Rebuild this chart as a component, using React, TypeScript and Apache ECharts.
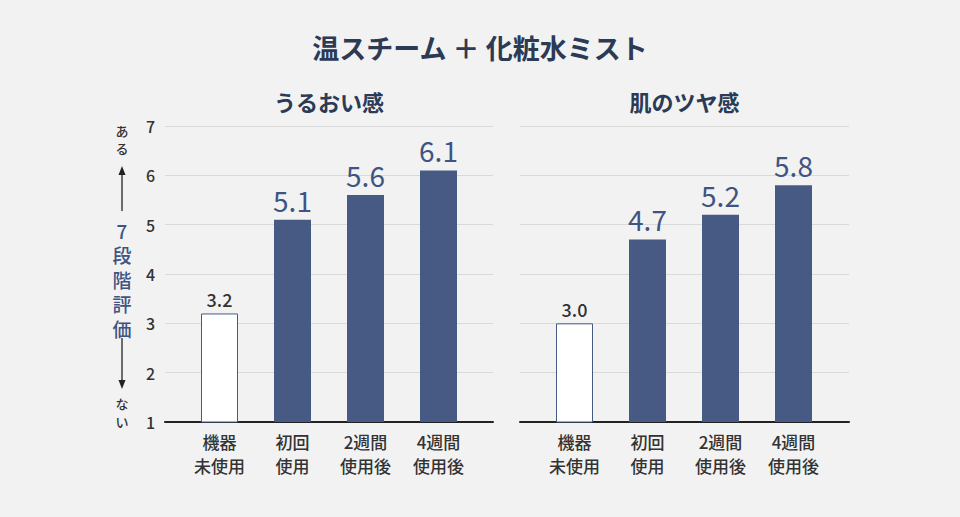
import React, { useEffect, useRef } from "react";
import * as echarts from "echarts";

const categories = ["機器\n未使用", "初回\n使用", "2週間\n使用後", "4週間\n使用後"];
const moistureValues = [3.2, 5.1, 5.6, 6.1];
const glossValues = [3.0, 4.7, 5.2, 5.8];
const yTicks = [1, 2, 3, 4, 5, 6, 7];
const titleText = "温スチーム ＋ 化粧水ミスト";
const panelTitles = ["うるおい感", "肌のツヤ感"];
const scaleTop = ["あ", "る"];
const scaleMid = ["7", "段", "階", "評", "価"];
const scaleBottom = ["な", "い"];

const FONT = "'Noto Sans CJK JP', 'Noto Sans', sans-serif";
const NAVY = "#2b3a55";
const BAR = "#465a84";
const LABEL_BLUE = "#3f5482";

function barData(values: number[]) {
  return values.map((v, i) =>
    i === 0
      ? {
          value: v,
          itemStyle: { color: "#ffffff", borderColor: BAR, borderWidth: 1 },
          label: {
            show: true,
            position: "top",
            distance: 5,
            formatter: (p: any) => Number(p.value).toFixed(1),
            color: "#333333",
            fontSize: 18,
            fontWeight: 500,
            fontFamily: FONT,
          },
        }
      : {
          value: v,
          label: {
            show: true,
            position: "top",
            distance: 6,
            formatter: (p: any) => Number(p.value).toFixed(1),
            color: LABEL_BLUE,
            fontSize: 28,
            fontFamily: FONT,
          },
        }
  );
}

function charTexts(chars: string[], x: number, y0: number, step: number, size: number, color: string, weight: string) {
  return chars.map((c, i) => ({
    type: "text",
    x,
    y: y0 + i * step,
    style: {
      text: c,
      fill: color,
      font: `${weight} ${size}px ${FONT}`,
      lineHeight: size,
      align: "center",
      verticalAlign: "middle",
    },
  }));
}

export default function App() {
  const ref = useRef<HTMLDivElement>(null);
  useEffect(() => {
    if (!ref.current) return;
    const chart = echarts.init(ref.current, null, { renderer: "svg" });
    const top = 126;
    const height = 296;
    const bgGrids = [
      { left: 165, width: 328 },
      { left: 520, width: 329 },
    ];
    const barGrids = [
      { left: 183, width: 292 },
      { left: 538, width: 292 },
    ];
    const grid: any[] = [];
    const xAxis: any[] = [];
    const yAxis: any[] = [];
    const series: any[] = [];
    [0, 1].forEach((k) => {
      grid.push({ left: bgGrids[k].left, width: bgGrids[k].width, top, height });
      grid.push({ left: barGrids[k].left, width: barGrids[k].width, top, height });
      const gBg = k * 2;
      const gBar = k * 2 + 1;
      xAxis.push({
        gridIndex: gBg,
        type: "value",
        min: 0,
        max: 1,
        axisLabel: { show: false },
        axisTick: { show: false },
        splitLine: { show: false },
        axisLine: { show: true, onZero: false, lineStyle: { color: "#222222", width: 2 } },
      });
      yAxis.push({
        gridIndex: gBg,
        type: "value",
        min: yTicks[0],
        max: yTicks[yTicks.length - 1],
        interval: 1,
        axisLine: { show: false },
        axisTick: { show: false },
        axisLabel: {
          show: k === 0,
          color: "#333333",
          fontSize: 16,
          fontWeight: 500,
          fontFamily: FONT,
          margin: 10,
        },
        splitLine: { show: true, lineStyle: { color: "#d9d9d9", width: 1 } },
      });
      xAxis.push({
        gridIndex: gBar,
        type: "category",
        data: categories,
        axisLine: { show: false },
        axisTick: { show: false },
        axisLabel: {
          color: "#333333",
          fontSize: 17,
          fontWeight: 500,
          lineHeight: 24,
          fontFamily: FONT,
          margin: 7,
        },
      });
      yAxis.push({
        gridIndex: gBar,
        type: "value",
        min: yTicks[0],
        max: yTicks[yTicks.length - 1],
        interval: 1,
        show: false,
        splitLine: { show: false },
      });
      series.push({
        type: "bar",
        xAxisIndex: gBar,
        yAxisIndex: gBar,
        barWidth: 37,
        itemStyle: { color: BAR },
        data: barData(k === 0 ? moistureValues : glossValues),
      });
    });

    const ax = 122;
    const graphic: any[] = [
      {
        type: "text",
        x: 480,
        y: 47,
        style: {
          text: titleText,
          fill: NAVY,
          font: `bold 27px ${FONT}`,
          align: "center",
          verticalAlign: "middle",
        },
      },
      {
        type: "text",
        x: 165 + 328 / 2,
        y: 101,
        style: {
          text: panelTitles[0],
          fill: NAVY,
          font: `bold 22px ${FONT}`,
          align: "center",
          verticalAlign: "middle",
        },
      },
      {
        type: "text",
        x: 520 + 329 / 2,
        y: 101,
        style: {
          text: panelTitles[1],
          fill: NAVY,
          font: `bold 22px ${FONT}`,
          align: "center",
          verticalAlign: "middle",
        },
      },
      ...charTexts(scaleTop, ax, 130.5, 18, 13, "#333333", "500"),
      { type: "line", shape: { x1: ax, y1: 172, x2: ax, y2: 211 }, style: { stroke: "#222222", lineWidth: 1.3 } },
      { type: "polygon", shape: { points: [[ax, 166], [ax - 3.5, 175], [ax + 3.5, 175]] }, style: { fill: "#222222" } },
      ...charTexts(scaleMid, ax, 230, 24.5, 19, LABEL_BLUE, "500"),
      { type: "line", shape: { x1: ax, y1: 338, x2: ax, y2: 381 }, style: { stroke: "#222222", lineWidth: 1.3 } },
      { type: "polygon", shape: { points: [[ax, 389], [ax - 3.5, 380], [ax + 3.5, 380]] }, style: { fill: "#222222" } },
      ...charTexts(scaleBottom, ax, 403, 18, 13, "#333333", "500"),
    ];

    chart.setOption({
      animation: false,
      backgroundColor: "#f2f2f2",
      textStyle: { fontFamily: FONT },
      grid,
      xAxis,
      yAxis,
      series,
      graphic,
    });
    return () => chart.dispose();
  }, []);
  return (
    <div
      ref={ref}
      style={{ position: "absolute", left: 0, top: 0, width: 960, height: 517 }}
    />
  );
}
